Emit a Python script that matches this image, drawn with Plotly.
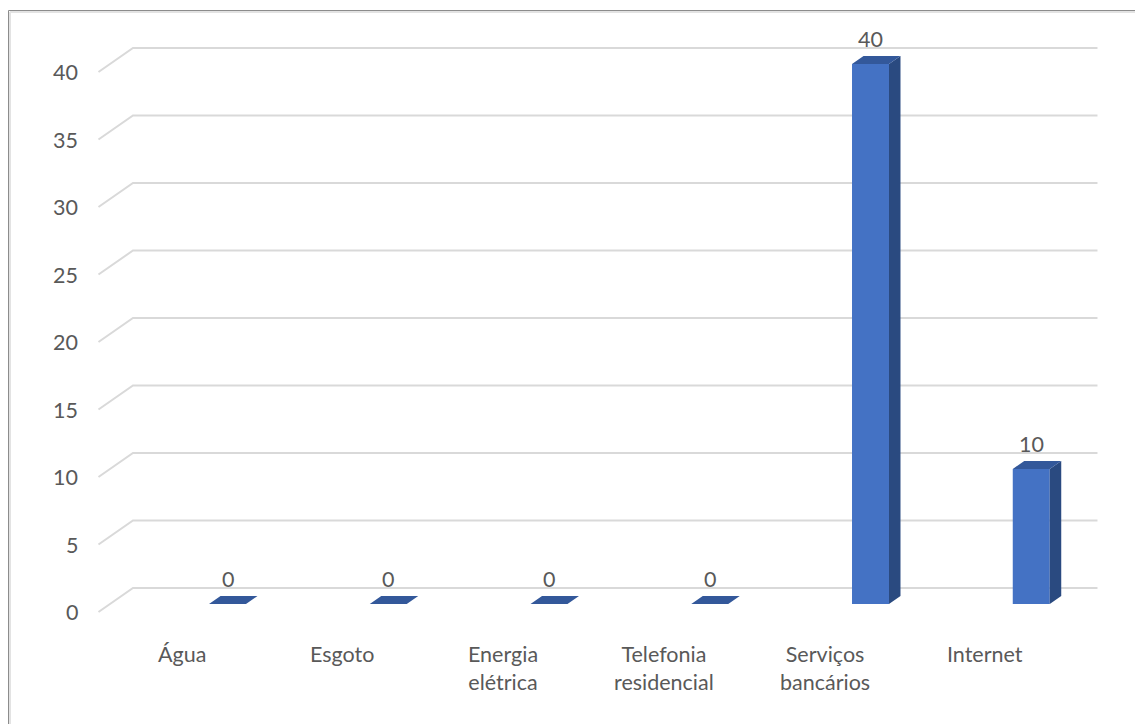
import plotly.graph_objects as go

# --- data -------------------------------------------------------------
categories = ["Água", "Esgoto", "Energia<br>elétrica", "Telefonia<br>residencial",
              "Serviços<br>bancários", "Internet"]
values = [0, 0, 0, 0, 40, 10]
y_ticks = [0, 5, 10, 15, 20, 25, 30, 35, 40]

# --- canvas / pseudo-3D geometry -----------------------------------------
FIG_W, FIG_H = 1135, 724
PX_PER_CAT = 160.75      # horizontal pixels per category
PX_PER_UNIT = 13.5       # vertical pixels per value unit
ORIGIN_X, ORIGIN_Y = 227.5, 604   # pixel of the first bar's front-bottom centre

BAR_W = 0.23             # width of a column's front face (category units)
STEP_X = 11.5 / PX_PER_CAT   # one depth step, horizontal
STEP_Y = 8 / PX_PER_UNIT     # one depth step, vertical
WALL_LEFT = -0.588           # left end of the back wall
WALL_SPAN = 6.0              # back wall spans all six category slots

FRONT = "#4472C4"
SIDE = "#2A4A80"
TOP = "#33589A"
GRID = "#D9D9D9"
TEXT = "#595959"
FONT = "Lato"
FS = 21.5

x_range = [-ORIGIN_X / PX_PER_CAT, (FIG_W - ORIGIN_X) / PX_PER_CAT]
y_range = [-(FIG_H - ORIGIN_Y) / PX_PER_UNIT, ORIGIN_Y / PX_PER_UNIT]

fig = go.Figure()

# front faces of the columns
xs = list(range(len(values)))
fig.add_trace(go.Bar(x=xs, y=values, width=BAR_W, marker=dict(color=FRONT, line=dict(width=0)),
                     hoverinfo="skip", showlegend=False))

# right-hand side faces and top faces
side_x, side_y, top_x, top_y = [], [], [], []
for x, v in zip(xs, values):
    r = x + BAR_W / 2
    l = x - BAR_W / 2
    side_x += [r, r + STEP_X, r + STEP_X, r, r, None]
    side_y += [0, STEP_Y, v + STEP_Y, v, 0, None]
    top_x += [l, r, r + STEP_X, l + STEP_X, l, None]
    top_y += [v, v, v + STEP_Y, v + STEP_Y, v, None]

fig.add_trace(go.Scatter(x=side_x, y=side_y, mode="lines", fill="toself", fillcolor=SIDE,
                         line=dict(width=0, color=SIDE), hoverinfo="skip", showlegend=False))
fig.add_trace(go.Scatter(x=top_x, y=top_y, mode="lines", fill="toself", fillcolor=TOP,
                         line=dict(width=0, color=TOP), hoverinfo="skip", showlegend=False))

# gridlines: slanted piece on the side wall, then along the back wall
for t in y_ticks:
    front_x = WALL_LEFT - 3 * STEP_X
    front_y = t - STEP_Y
    back_y = t + 2 * STEP_Y
    fig.add_shape(type="path", xref="x", yref="y", layer="below",
                  path=f"M{front_x},{front_y} L{WALL_LEFT},{back_y} L{WALL_LEFT + WALL_SPAN},{back_y}",
                  line=dict(color=GRID, width=2))
    fig.add_annotation(x=-0.92, y=front_y, text=str(t), showarrow=False,
                       xanchor="right", yanchor="middle",
                       font=dict(family=FONT, size=FS, color=TEXT))

# value labels above each column
for x, v in zip(xs, values):
    fig.add_annotation(x=x, y=v, text=str(v), showarrow=False, yshift=25,
                       xanchor="center", yanchor="middle",
                       font=dict(family=FONT, size=FS, color=TEXT))

# category labels
for x, c in zip(xs, categories):
    fig.add_annotation(x=x - 0.286, y=-2.6, text=c, showarrow=False,
                       xanchor="center", yanchor="top", align="center",
                       font=dict(family=FONT, size=FS, color=TEXT))

# chart area frame (top and left edges)
bx, by = 8.5 / FIG_W, 1 - 10.5 / FIG_H
fig.add_shape(type="line", xref="paper", yref="paper", x0=bx, y0=by, x1=1, y1=by,
              line=dict(color="#8C8C8C", width=1))
fig.add_shape(type="line", xref="paper", yref="paper", x0=bx, y0=by, x1=bx, y1=0,
              line=dict(color="#8C8C8C", width=1))
fig.add_shape(type="line", xref="paper", yref="paper", x0=bx + 1.5 / FIG_W, y0=by - 1.5 / FIG_H,
              x1=1, y1=by - 1.5 / FIG_H, line=dict(color="#E3E3E3", width=2))
fig.add_shape(type="line", xref="paper", yref="paper", x0=bx + 1.5 / FIG_W, y0=by - 1.5 / FIG_H,
              x1=bx + 1.5 / FIG_W, y1=0, line=dict(color="#E3E3E3", width=2))

fig.update_layout(
    width=FIG_W, height=FIG_H, autosize=False,
    margin=dict(l=0, r=0, t=0, b=0),
    paper_bgcolor="white", plot_bgcolor="white",
    xaxis=dict(range=x_range, visible=False, fixedrange=True),
    yaxis=dict(range=y_range, visible=False, fixedrange=True),
    showlegend=False,
)

fig.write_html("out.html")
